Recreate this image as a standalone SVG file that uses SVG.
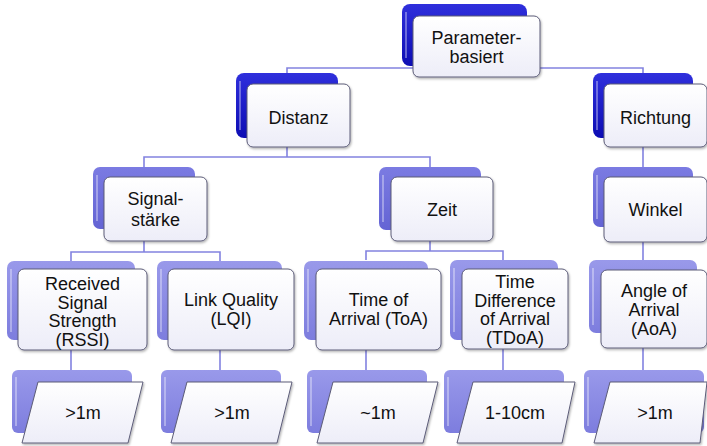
<svg xmlns="http://www.w3.org/2000/svg" width="707" height="446" viewBox="0 0 707 446">
<defs>
<linearGradient id="gDark" x1="0" y1="0" x2="0" y2="1"><stop offset="0" stop-color="#2f2fdc"/><stop offset="1" stop-color="#0d0db4"/></linearGradient>
<linearGradient id="gMid" x1="0" y1="0" x2="0" y2="1"><stop offset="0" stop-color="#7b7be2"/><stop offset="1" stop-color="#6464d4"/></linearGradient>
<linearGradient id="gLight" x1="0" y1="0" x2="0" y2="1"><stop offset="0" stop-color="#9999ea"/><stop offset="1" stop-color="#7d7dde"/></linearGradient>
<linearGradient id="gFront" x1="0" y1="0" x2="0" y2="1"><stop offset="0" stop-color="#ffffff"/><stop offset="1" stop-color="#ededf8"/></linearGradient>
<filter id="sh" x="-10%" y="-10%" width="125%" height="130%"><feDropShadow dx="1" dy="1.5" stdDeviation="1.2" flood-color="#000" flood-opacity="0.3"/></filter>
</defs>
<style>
.dark{fill:url(#gDark)}
.mid{fill:url(#gMid)}
.light{fill:url(#gLight)}
.hl{fill:none;stroke:#ffffff;stroke-opacity:0.35;stroke-width:2}
.front{fill:url(#gFront);stroke:#5c5c78;stroke-width:1;filter:url(#sh)}
.conn{fill:none;stroke:#8282e0;stroke-width:1.6}
text{font-family:"Liberation Sans",Arial,sans-serif;font-size:18px;fill:#111;text-anchor:middle}
</style>
<g id="connectors">
<path class="conn" d="M287 73V68H643V73M465 66V68"/>
<path class="conn" d="M287 138V157M144 167V157H430V167"/>
<path class="conn" d="M643 138V167M643 227V260"/>
<path class="conn" d="M144 229V252M71 261V252H220V261"/>
<path class="conn" d="M430 230V251M366 260V251H503V260"/>
<path class="conn" d="M71 350V370M220 350V370M366 350V370M503 349V370M643 348V370"/>
</g>
<g id="n-parameter">
<rect class="dark" x="402" y="4" width="125" height="62" rx="8"/>
<path class="hl" d="M406 12V58"/>
<rect class="front" x="413" y="16" width="127" height="61" rx="6"/>
<text x="476.5" y="44">Parameter-</text>
<text x="476.5" y="63">basiert</text>
</g>
<g id="n-distanz">
<rect class="dark" x="236" y="73" width="102" height="65" rx="8"/>
<path class="hl" d="M240 81V130"/>
<rect class="front" x="247" y="84" width="103" height="63" rx="6"/>
<text x="298.5" y="124">Distanz</text>
</g>
<g id="n-richtung">
<rect class="dark" x="593" y="73" width="100" height="65" rx="8"/>
<path class="hl" d="M597 81V130"/>
<rect class="front" x="604" y="84" width="103" height="63" rx="6"/>
<text x="655.5" y="124">Richtung</text>
</g>
<g id="n-signal">
<rect class="mid" x="93" y="167" width="102" height="62" rx="7"/>
<path class="hl" d="M97 175V221"/>
<rect class="front" x="104" y="177" width="103" height="64" rx="6"/>
<text x="155.5" y="204.5">Signal-</text>
<text x="155.5" y="226">stärke</text>
</g>
<g id="n-zeit">
<rect class="mid" x="379" y="167" width="102" height="63" rx="7"/>
<path class="hl" d="M383 175V222"/>
<rect class="front" x="391" y="177" width="102" height="64" rx="6"/>
<text x="442" y="216">Zeit</text>
</g>
<g id="n-winkel">
<rect class="mid" x="593" y="167" width="100" height="60" rx="7"/>
<path class="hl" d="M597 175V219"/>
<rect class="front" x="604" y="177" width="103" height="65" rx="6"/>
<text x="655.5" y="216">Winkel</text>
</g>
<g id="n-rssi">
<rect class="light" x="7" y="261" width="128" height="79" rx="7"/>
<path class="hl" d="M11 269V332"/>
<rect class="front" x="18" y="269" width="129" height="81" rx="6"/>
<text x="82.5" y="290">Received</text>
<text x="82.5" y="308.5">Signal</text>
<text x="82.5" y="327">Strength</text>
<text x="82.5" y="345.5">(RSSI)</text>
</g>
<g id="n-lqi">
<rect class="light" x="157" y="261" width="125" height="79" rx="7"/>
<path class="hl" d="M161 269V332"/>
<rect class="front" x="168" y="269" width="126" height="81" rx="6"/>
<text x="231" y="306">Link Quality</text>
<text x="231" y="325">(LQI)</text>
</g>
<g id="n-toa">
<rect class="light" x="304" y="261" width="124" height="79" rx="7"/>
<path class="hl" d="M308 269V332"/>
<rect class="front" x="316" y="269" width="125" height="81" rx="6"/>
<text x="378.5" y="306">Time of</text>
<text x="378.5" y="325">Arrival (ToA)</text>
</g>
<g id="n-tdoa">
<rect class="light" x="450" y="260" width="108" height="80" rx="7"/>
<path class="hl" d="M454 268V332"/>
<rect class="front" x="462" y="269" width="106" height="80" rx="6"/>
<text x="515" y="288">Time</text>
<text x="515" y="306.5">Difference</text>
<text x="515" y="325">of Arrival</text>
<text x="515" y="343.5">(TDoA)</text>
</g>
<g id="n-aoa">
<rect class="light" x="589" y="260" width="108" height="73" rx="7"/>
<path class="hl" d="M593 268V325"/>
<rect class="front" x="601" y="270" width="106" height="78" rx="6"/>
<text x="654" y="297">Angle of</text>
<text x="654" y="316">Arrival</text>
<text x="654" y="335">(AoA)</text>
</g>
<g id="n-v1">
<rect class="light" x="12" y="370" width="120" height="63" rx="6"/>
<path class="hl" d="M16 377V426"/>
<polygon class="front" points="38,382 143,382 128,443 22,443"/>
<text x="83" y="419">&gt;1m</text>
</g>
<g id="n-v2">
<rect class="light" x="161" y="370" width="120" height="63" rx="6"/>
<path class="hl" d="M165 377V426"/>
<polygon class="front" points="187,382 292,382 277,443 171,443"/>
<text x="232" y="419">&gt;1m</text>
</g>
<g id="n-v3">
<rect class="light" x="307" y="370" width="120" height="63" rx="6"/>
<path class="hl" d="M311 377V426"/>
<polygon class="front" points="333,382 438,382 423,443 317,443"/>
<text x="378" y="419">~1m</text>
</g>
<g id="n-v4">
<rect class="light" x="444" y="370" width="120" height="63" rx="6"/>
<path class="hl" d="M448 377V426"/>
<polygon class="front" points="473,382 575,382 562,443 457,443"/>
<text x="515" y="419">1-10cm</text>
</g>
<g id="n-v5">
<rect class="light" x="584" y="370" width="120" height="63" rx="6"/>
<path class="hl" d="M588 377V426"/>
<polygon class="front" points="610,382 707,382 700,443 594,443"/>
<text x="655" y="419">&gt;1m</text>
</g>
</svg>
